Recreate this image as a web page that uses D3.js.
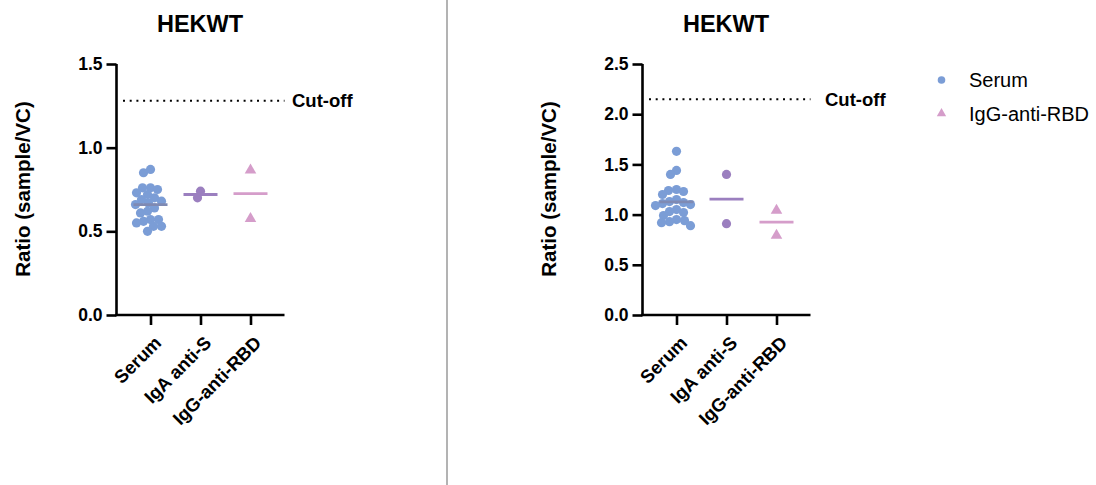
<!DOCTYPE html>
<html>
<head>
<meta charset="utf-8">
<script src="https://cdn.jsdelivr.net/npm/d3@7"></script>
<style>
  html, body { margin: 0; padding: 0; background: #fff; }
  svg { display: block; font-family: "Liberation Sans", Arial, sans-serif; }
</style>
</head>
<body>
<svg id="chart" width="1096" height="485"></svg>
<script>
// ---------- data ----------
const categories = ["Serum", "IgA anti-S", "IgG-anti-RBD"];
const panelTitles = ["HEKWT", "HEKWT"];

const leftSerum = [0.87, 0.85, 0.76, 0.76, 0.75, 0.73, 0.72, 0.70, 0.69, 0.68, 0.67,
                   0.66, 0.64, 0.62, 0.61, 0.57, 0.57, 0.56, 0.55, 0.53, 0.53, 0.50];
const leftIgA = [0.70, 0.74];
const leftIgG = [0.87, 0.58];
const leftCutoff = 1.28;
const leftTicks = [0.0, 0.5, 1.0, 1.5];

const rightSerum = [1.63, 1.44, 1.40, 1.25, 1.24, 1.23, 1.20, 1.15, 1.13, 1.12, 1.11,
                    1.10, 1.09, 1.05, 1.03, 1.02, 0.99, 0.95, 0.94, 0.93, 0.92, 0.89];
const rightIgA = [1.40, 0.91];
const rightIgG = [1.05, 0.80];
const rightCutoff = 2.15;
const rightTicks = [0.0, 0.5, 1.0, 1.5, 2.0, 2.5];

const legendLabels = ["Serum", "IgG-anti-RBD"];
const yLabel = "Ratio (sample/VC)";
const cutoffLabel = "Cut-off";

// ---------- styles ----------
const colSerum = "#7b9dd6", colIgA = "#9b7fbf", colIgG = "#d59dca";
const lineSerum = "#7f8ab3";
const pointColors = [colSerum, colIgA, colIgG];
const lineColors = [lineSerum, colIgA, colIgG];
const shapes = ["circle", "circle", "triangle"];

const panels = [
  { dx: 0,   series: [leftSerum, leftIgA, leftIgG],   cutoff: leftCutoff,  ticks: leftTicks,  yMax: 1.5, cutTextX: 292 - 116.5, title: panelTitles[0] },
  { dx: 526, series: [rightSerum, rightIgA, rightIgG], cutoff: rightCutoff, ticks: rightTicks, yMax: 2.5, cutTextX: 825 - 642.5, title: panelTitles[1] }
];

const svg = d3.select("#chart");
const X0 = 116.5, W = 168, YT = 64, YB = 315;
const R = 4.6;

// divider
svg.append("line").attr("x1", 447).attr("x2", 447).attr("y1", 0).attr("y2", 485)
  .attr("stroke", "#9a9a9a").attr("stroke-width", 1.5);

function beeswarm(values, y, cx) {
  const order = values.map((v, i) => i).sort((a, b) => values[b] - values[a]);
  const placed = [];
  const out = new Array(values.length);
  const minD = 2 * R * 0.78;
  order.forEach(i => {
    const py = y(values[i]);
    let chosen = 0;
    for (let k = 0; k < 200; k++) {
      const off = (k % 2 === 0 ? 1 : -1) * Math.ceil(k / 2) * 1.0;
      const ok = placed.every(p => Math.hypot(p.x - (cx + off), p.y - py) >= minD);
      if (ok) { chosen = off; break; }
    }
    const pt = { x: cx + chosen, y: py };
    placed.push(pt);
    out[i] = pt;
  });
  return out;
}

const tri = d3.symbol().type(d3.symbolTriangle).size(58);

panels.forEach(p => {
  const g = svg.append("g").attr("transform", `translate(${p.dx},0)`);
  const x = d3.scalePoint().domain(categories).range([X0, X0 + W]).padding(0.68);
  const y = d3.scaleLinear().domain([0, p.yMax]).range([YB, YT]);

  // title
  g.append("text").attr("x", X0 + 83.5).attr("y", 31.5).attr("text-anchor", "middle")
    .attr("font-size", 23.5).attr("font-weight", "bold").text(p.title);

  // y label
  g.append("text").attr("transform", `translate(29.5,${(YT + YB) / 2 - 0.5}) rotate(-90)`)
    .attr("text-anchor", "middle").attr("font-size", 20.5).attr("font-weight", "bold").text(yLabel);

  // y axis
  const yAxis = d3.axisLeft(y).tickValues(p.ticks).tickFormat(d3.format(".1f")).tickSize(10).tickPadding(4);
  const ya = g.append("g").attr("transform", `translate(${X0},0)`).call(yAxis);
  ya.select(".domain").attr("stroke", "#000").attr("stroke-width", 2.6).attr("d", `M0,${YT}V${YB}`);
  ya.selectAll(".tick line").attr("stroke", "#000").attr("stroke-width", 2.6);
  ya.selectAll(".tick text").attr("font-size", 17.5).attr("font-weight", "bold").attr("fill", "#000")
    .attr("font-family", "Liberation Sans, Arial, sans-serif");

  // x axis
  const xAxis = d3.axisBottom(x).tickSize(10).tickFormat("");
  const xa = g.append("g").attr("transform", `translate(0,${YB})`).call(xAxis);
  xa.select(".domain").attr("stroke", "#000").attr("stroke-width", 2.6).attr("d", `M${X0 - 1.3},0H${X0 + W}`);
  xa.selectAll(".tick line").attr("stroke", "#000").attr("stroke-width", 2.6);
  categories.forEach(c => {
    g.append("text").attr("transform", `translate(${x(c) + 12},${YB + 29}) rotate(-45)`)
      .attr("text-anchor", "end").attr("font-size", 18.5).attr("font-weight", "bold").text(c);
  });

  // cut-off line
  g.append("line").attr("x1", X0 + 6.5).attr("x2", X0 + W).attr("y1", y(p.cutoff)).attr("y2", y(p.cutoff))
    .attr("stroke", "#000").attr("stroke-width", 2).attr("stroke-dasharray", "2,4.7");
  g.append("text").attr("x", X0 + p.cutTextX).attr("y", y(p.cutoff)).attr("dy", "0.36em")
    .attr("font-size", 18.5).attr("font-weight", "bold").text(cutoffLabel);

  // points
  p.series.forEach((vals, si) => {
    const cx = x(categories[si]);
    const pts = beeswarm(vals, y, cx);
    pts.forEach(pt => {
      if (shapes[si] === "circle") {
        g.append("circle").attr("cx", pt.x).attr("cy", pt.y).attr("r", R).attr("fill", pointColors[si]);
      } else {
        g.append("path").attr("d", tri).attr("transform", `translate(${pt.x},${pt.y + 0.8})`).attr("fill", pointColors[si]);
      }
    });
    const m = d3.mean(vals);
    g.append("line").attr("x1", cx - 17).attr("x2", cx + 17).attr("y1", y(m)).attr("y2", y(m))
      .attr("stroke", lineColors[si]).attr("stroke-width", 2.8);
  });
});

// legend
const lg = svg.append("g");
legendLabels.forEach((lab, i) => {
  const ly = 80 + i * 34;
  if (i === 0) {
    lg.append("circle").attr("cx", 941.5).attr("cy", ly).attr("r", 3.8).attr("fill", colSerum);
  } else {
    lg.append("path").attr("d", d3.symbol().type(d3.symbolTriangle).size(38))
      .attr("transform", `translate(941.5,${ly - 0.5})`).attr("fill", colIgG);
  }
  lg.append("text").attr("x", 969).attr("y", ly).attr("dy", "0.36em").attr("font-size", 20).text(lab);
});
</script>
</body>
</html>
